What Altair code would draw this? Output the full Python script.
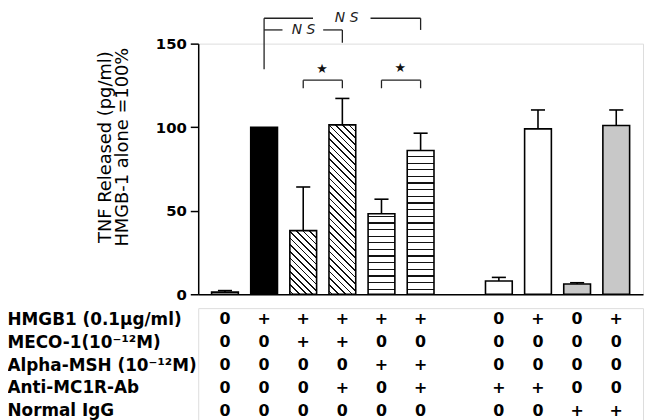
import math
import altair as alt
import pandas as pd

# ---------------- data ----------------
row_labels = ["HMGB1 (0.1\u03bcg/ml)", "MECO-1(10\u207b\u00b9\u00b2M)", "Alpha-MSH (10\u207b\u00b9\u00b2M)",
              "Anti-MC1R-Ab", "Normal IgG"]
hmgb1 = ["0", "+", "+", "+", "+", "+", "0", "+", "0", "+"]
meco1 = ["0", "0", "+", "+", "0", "0", "0", "0", "0", "0"]
alpha_msh = ["0", "0", "0", "0", "+", "+", "0", "0", "0", "0"]
anti_mc1r = ["0", "0", "0", "+", "0", "+", "+", "+", "0", "0"]
normal_igg = ["0", "0", "0", "0", "0", "0", "0", "0", "+", "+"]

tnf_values = [1.3, 100, 38.1, 101.4, 48.2, 86.0, 7.9, 99.0, 6.1, 101.0]
err_tops = [2.2, None, 64.2, 117.2, 56.9, 96.4, 10.1, 110.3, 6.9, 110.3]

y_ticks = [0, 50, 100, 150]
y_title = ["TNF Released (pg/ml)", "HMGB-1 alone =100%"]

# significance brackets (x in bar slots, y in % units)
brk_x = [2, 2, 4.72, 6, 2, 3.51, 4, 3, 3, 4, 5, 5, 6]
brk_x2 = [2, 3.25, 6, 6, 2.47, 4, 4, 3, 4, 4, 5, 6, 6]
brk_y = [134.6, 165.2, 165.2, 165.2, 158.2, 158.2, 158.2, 123.3, 128.1, 128.1, 123.3, 128.1, 128.1]
brk_y2 = [165.2, 165.2, 165.2, 158.2, 158.2, 158.2, 150.6, 128.1, 128.1, 123.3, 128.1, 128.1, 123.3]
ns_x = [4.11, 3.01]
ns_y = [165.2, 158.2]
star_x = [3.48, 5.48]
star_y = [134.6, 135.2]

# ---------------- layout constants ----------------
FONT = "DejaVu Sans"
W, H = 449, 253
YMAX = 150
XDOM = [0.316, 11.684]
HALF = 0.342
px_per_x = W / (XDOM[1] - XDOM[0])
px_per_y = H / YMAX

n = len(tnf_values)
slots = [i + 1 if i < 6 else i + 2 for i in range(n)]
plain_fill = {0: "white", 1: "black", 6: "white", 7: "white", 8: "#c8c8c8", 9: "#c8c8c8"}

bars = pd.DataFrame({
    "idx": list(range(n)),
    "slot": slots,
    "value": tnf_values,
    "err": err_tops,
    "fillc": [plain_fill.get(i, "white") for i in range(n)],
})

xs = alt.Scale(domain=XDOM, nice=False, zero=False)
ys = alt.Scale(domain=[0, YMAX], nice=False)


def hstripes(h, spacing=6.7, thick=1.3, color="#111"):
    stops = [{"offset": 0, "color": "white"}]
    d = spacing * 0.75
    while d < h - 1.5:
        a, b = (d - thick / 2) / h, (d + thick / 2) / h
        stops += [{"offset": a, "color": "white"}, {"offset": a, "color": color},
                  {"offset": b, "color": color}, {"offset": b, "color": "white"}]
        d += spacing
    stops.append({"offset": 1, "color": "white"})
    return {"gradient": "linear", "x1": 0, "y1": 1, "x2": 0, "y2": 0, "stops": stops}


def dstripes(w, h, spacing=6.7, thick=1.2, color="#111"):
    D = (w + h) / math.sqrt(2)
    sp = spacing / math.sqrt(2)
    k = (w + h) / (w * w + h * h)
    stops = [{"offset": 0, "color": "white"}]
    d = sp * 0.5
    while d < D:
        a, b = max(0, (d - thick / 2) / D), min(1, (d + thick / 2) / D)
        stops += [{"offset": a, "color": "white"}, {"offset": a, "color": color},
                  {"offset": b, "color": color}, {"offset": b, "color": "white"}]
        d += sp
    stops.append({"offset": 1, "color": "white"})
    return {"gradient": "linear", "x1": 0, "y1": 1, "x2": k * w, "y2": 1 - k * h, "stops": stops}


base = alt.Chart(bars).transform_calculate(
    lo=f"datum.slot - {HALF}", hi=f"datum.slot + {HALF}",
    clo="datum.slot - 0.18", chi="datum.slot + 0.18", zero="0")

x_axis = alt.Axis(labels=False, ticks=False, title=None, grid=False,
                  domainWidth=1.5, domainColor="black")
y_axis = alt.Axis(values=y_ticks, title=y_title, grid=False, tickSize=8, tickWidth=1.5,
                  tickColor="black", domainWidth=1.5, domainColor="black",
                  labelFont=FONT, labelFontSize=15, labelFontWeight="bold", labelColor="black",
                  labelPadding=4, titleFont=FONT, titleFontSize=18, titleFontWeight="normal",
                  titleColor="black", titlePadding=24, titleLineHeight=17, titleY=104)

plain = base.transform_filter("datum.idx < 2 || datum.idx > 5").mark_bar(
    stroke="black", strokeWidth=1.6).encode(
    x=alt.X("lo:Q", scale=xs, axis=x_axis), x2="hi:Q",
    y=alt.Y("value:Q", scale=ys, axis=y_axis), y2="zero:Q",
    fill=alt.Fill("fillc:N", scale=None))

layers = [plain]
w_px = 2 * HALF * px_per_x
for i in [2, 3, 4, 5]:
    h_px = tnf_values[i] * px_per_y
    grad = dstripes(w_px, h_px) if i in (2, 3) else hstripes(h_px)
    layers.append(base.transform_filter(f"datum.idx == {i}").mark_bar(
        stroke="black", strokeWidth=1.6, fill=grad).encode(
        x=alt.X("lo:Q", scale=xs), x2="hi:Q", y=alt.Y("value:Q", scale=ys), y2="zero:Q"))

errs = base.transform_filter("datum.err != null")
layers.append(errs.mark_rule(color="black", strokeWidth=1.6).encode(
    x=alt.X("slot:Q", scale=xs), y=alt.Y("value:Q", scale=ys), y2="err:Q"))
layers.append(errs.mark_rule(color="black", strokeWidth=1.6).encode(
    x=alt.X("clo:Q", scale=xs), x2="chi:Q", y=alt.Y("err:Q", scale=ys)))

brk = pd.DataFrame({"x": brk_x, "x2": brk_x2, "y": brk_y, "y2": brk_y2})
layers.append(alt.Chart(brk).mark_rule(color="#222", strokeWidth=1.3).encode(
    x=alt.X("x:Q", scale=xs), x2="x2:Q", y=alt.Y("y:Q", scale=ys), y2="y2:Q"))

ns = pd.DataFrame({"x": ns_x, "y": ns_y, "t": ["N  S"] * 2})
layers.append(alt.Chart(ns).mark_text(font=FONT, fontSize=14, fontStyle="italic",
                                      color="#222", baseline="middle").encode(
    x=alt.X("x:Q", scale=xs), y=alt.Y("y:Q", scale=ys), text="t:N"))

st = pd.DataFrame({"x": star_x, "y": star_y, "t": ["\u2605"] * 2})
layers.append(alt.Chart(st).mark_text(font=FONT, fontSize=13, color="#111",
                                      baseline="middle").encode(
    x=alt.X("x:Q", scale=xs), y=alt.Y("y:Q", scale=ys), text="t:N"))

top = alt.layer(*layers).properties(width=W, height=H)

# table
recs = []
for lab, vals in zip(row_labels, [hmgb1, meco1, alpha_msh, anti_mc1r, normal_igg]):
    for s, v in zip(slots, vals):
        recs.append({"row": lab, "slot": s, "v": v})
tab = pd.DataFrame(recs)

table = alt.Chart(tab).mark_text(font=FONT, fontSize=16, fontWeight="bold", color="black",
                                 baseline="middle").encode(
    x=alt.X("slot:Q", scale=xs, axis=None),
    y=alt.Y("row:N", sort=row_labels,
            axis=alt.Axis(title=None, domain=False, ticks=False, labelAlign="left",
                          labelPadding=193, labelFont=FONT, labelFontSize=17,
                          labelFontWeight="bold", labelColor="black", labelLimit=0)),
    text="v:N").properties(width=W, height=115)

chart = alt.vconcat(top, table, spacing=4).resolve_scale(y="independent").properties(
    padding={"left": -2, "top": 0, "right": 0, "bottom": 0}
).configure_view(stroke=None).configure(font=FONT)

chart.save("out.html", embed_options={"renderer": "svg", "actions": False})
